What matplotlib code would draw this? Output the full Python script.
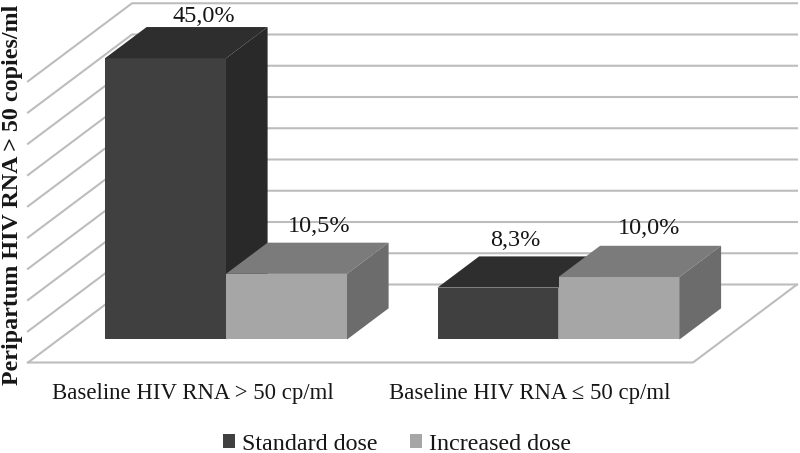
import matplotlib
matplotlib.use('Agg')
import matplotlib.pyplot as plt
from matplotlib.patches import Polygon, Patch

# datos
categorias = ['Baseline HIV RNA > 50 cp/ml', 'Baseline HIV RNA ≤ 50 cp/ml']
series = ['Standard dose', 'Increased dose']
standard_dose = [45.0, 8.3]
increased_dose = [10.5, 10.0]
etiquetas_standard = ['45,0%', '8,3%']
etiquetas_increased = ['10,5%', '10,0%']
ticks_y = [0, 5, 10, 15, 20, 25, 30, 35, 40, 45]

plt.rcParams['font.family'] = ['Liberation Serif', 'DejaVu Serif']

fig = plt.figure(figsize=(8, 4.53), dpi=100)
ax = fig.add_axes([0, 0, 1, 1])
ax.set_xlim(0, 800)
ax.set_ylim(453, 0)
ax.axis('off')

# escala del grafico 3D (pixeles)
PISO_Y = 362.5
PX_POR_PCT = 6.25
PROF_X = 104
PROF_Y = 78
PARED_X0 = 28
PARED_X1 = 693
BARRA_PROF = 0.4     # profundidad de la barra (fraccion del piso)
BARRA_INI = 0.295    # donde empieza la barra en el piso
GRUPO_X = [105, 437.5]
BARRA_ANCHO = 121
COLOR_TEXTO = '#161616'


def proyectar(x, valor, prof):
    # pasa (x, valor, profundidad) a pixeles
    return x + prof * PROF_X, PISO_Y - valor * PX_POR_PCT - prof * PROF_Y


def barra_3d(x, valor, c_frente, c_arriba, c_lado):
    x0 = x - BARRA_INI * PROF_X
    x1 = x0 + BARRA_ANCHO
    p0, p1 = BARRA_INI, BARRA_INI + BARRA_PROF
    frente = [proyectar(x0, 0, p0), proyectar(x1, 0, p0), proyectar(x1, valor, p0), proyectar(x0, valor, p0)]
    arriba = [proyectar(x0, valor, p0), proyectar(x1, valor, p0), proyectar(x1, valor, p1), proyectar(x0, valor, p1)]
    lado = [proyectar(x1, 0, p0), proyectar(x1, valor, p0), proyectar(x1, valor, p1), proyectar(x1, 0, p1)]
    ax.add_patch(Polygon(frente, closed=True, facecolor=c_frente, edgecolor='none', zorder=5))
    ax.add_patch(Polygon(arriba, closed=True, facecolor=c_arriba, edgecolor='none', zorder=5))
    ax.add_patch(Polygon(lado, closed=True, facecolor=c_lado, edgecolor='none', zorder=5))


# paredes y lineas de grilla
color_grilla = '#bdbdbd'
for t in ticks_y:
    xa, ya = proyectar(PARED_X0, t, 0)
    xb, yb = proyectar(PARED_X0, t, 1)
    xc, yc = proyectar(PARED_X1, t, 1)
    ax.plot([xa, xb, xc], [ya, yb, yc], color=color_grilla, lw=1.5, zorder=1)

# piso
esquinas = [proyectar(PARED_X0, 0, 0), proyectar(PARED_X1, 0, 0), proyectar(PARED_X1, 0, 1)]
ax.plot([e[0] for e in esquinas], [e[1] for e in esquinas], color=color_grilla, lw=1.5, zorder=1)

colores_standard = ('#404040', '#2e2e2e', '#292929')
colores_increased = ('#a6a6a6', '#7b7b7b', '#6c6c6c')

# ajuste a mano de las etiquetas (dx, dy desde el frente de la barra)
ajuste_standard = [(38, -42), (17, -47)]
ajuste_increased = [(33, -47), (30, -48)]

for i in range(len(categorias)):
    barra_3d(GRUPO_X[i], standard_dose[i], *colores_standard)
    barra_3d(GRUPO_X[i] + BARRA_ANCHO, increased_dose[i], *colores_increased)

    x_s = GRUPO_X[i] + BARRA_ANCHO * 0.5 + ajuste_standard[i][0]
    y_s = PISO_Y - 23 - standard_dose[i] * PX_POR_PCT + ajuste_standard[i][1]
    x_i = GRUPO_X[i] + BARRA_ANCHO * 1.5 + ajuste_increased[i][0]
    y_i = PISO_Y - 23 - increased_dose[i] * PX_POR_PCT + ajuste_increased[i][1]
    ax.text(x_s, y_s, etiquetas_standard[i], ha='center', va='center', fontsize=17.5, color=COLOR_TEXTO, zorder=9)
    ax.text(x_i, y_i, etiquetas_increased[i], ha='center', va='center', fontsize=17.5, color=COLOR_TEXTO, zorder=9)

# etiquetas de categorias
ax.text(193, 394, categorias[0], ha='center', va='center', fontsize=16.4, color=COLOR_TEXTO)
ax.text(530, 394, categorias[1], ha='center', va='center', fontsize=16.4, color=COLOR_TEXTO)

# eje y
ax.text(13, 195, 'Peripartum HIV RNA > 50 copies/ml', rotation=90, ha='center', va='center',
        fontsize=17.3, fontweight='bold', color=COLOR_TEXTO)

# leyenda
handles = [Patch(facecolor=colores_standard[0]), Patch(facecolor=colores_increased[0])]
fig.legend(handles, series, loc='center', bbox_to_anchor=(397 / 800, 1 - 444 / 453), ncol=2, frameon=False,
           fontsize=17.3, handlelength=0.5, handleheight=0.5, handletextpad=0.3, columnspacing=1.35,
           labelcolor=COLOR_TEXTO)

fig.savefig('out.png', dpi=100)
